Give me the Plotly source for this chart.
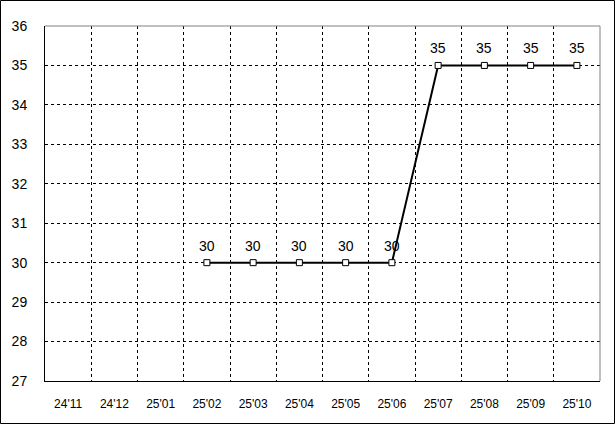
import plotly.graph_objects as go

categories = ["24'11", "24'12", "25'01", "25'02", "25'03", "25'04",
              "25'05", "25'06", "25'07", "25'08", "25'09", "25'10"]
values = [None, None, None, 30, 30, 30, 30, 30, 35, 35, 35, 35]
y_ticks = list(range(27, 37))

fig = go.Figure()
fig.add_trace(go.Scatter(
    x=categories, y=values,
    mode="lines+markers",
    line=dict(color="black", width=2),
    marker=dict(symbol="square", size=6, color="white",
                line=dict(color="black", width=1)),
    connectgaps=False,
    cliponaxis=False,
    showlegend=False,
))

annotations = [
    dict(x=c, y=v, text=str(v), showarrow=False, xref="x", yref="y",
         yanchor="middle", xanchor="center", yshift=17,
         font=dict(family="Liberation Sans", size=14, color="black"))
    for c, v in zip(categories, values) if v is not None
]

L, R, T, B = 45, 15, 26, 43
W, H = 615, 424
pw, ph = W - L - R, H - T - B

fig.update_layout(
    width=W, height=H,
    margin=dict(l=L, r=R, t=T, b=B, autoexpand=False),
    paper_bgcolor="white", plot_bgcolor="white",
    font=dict(family="Liberation Sans", color="black"),
    annotations=annotations,
    xaxis=dict(type="category", range=[-0.5, 11.5], tickson="boundaries",
               showgrid=True, gridcolor="black", griddash="3px,3px", gridwidth=1,
               showline=True, linecolor="black", linewidth=1,
               ticks="", tickfont=dict(size=12), ticklabelstandoff=12,
               automargin=False, zeroline=False, fixedrange=True),
    yaxis=dict(range=[27, 36], tickvals=y_ticks,
               showgrid=True, gridcolor="black", griddash="3px,3px", gridwidth=1,
               showline=True, linecolor="black", linewidth=1,
               ticks="", tickfont=dict(size=14), ticklabelstandoff=14,
               automargin=False, zeroline=False, fixedrange=True),
    shapes=[
        dict(type="line", xref="paper", yref="paper", x0=0, x1=1, y0=1, y1=1,
             line=dict(color="#808080", width=1), layer="above"),
        dict(type="line", xref="paper", yref="paper", x0=1, x1=1, y0=0, y1=1,
             line=dict(color="#808080", width=1), layer="above"),
        dict(type="rect", xref="paper", yref="paper",
             x0=(0.5 - L) / pw, x1=(W - 0.5 - L) / pw,
             y0=((H - B) - (H - 0.5)) / ph,
             y1=((H - B) - 0.5) / ph,
             line=dict(color="black", width=1), layer="above"),
    ],
)

fig.write_html(
    "out.html",
    config={"displayModeBar": False},
    post_script="document.body.style.margin='0';document.body.style.padding='0';"
                "document.documentElement.style.overflow='hidden';",
)
